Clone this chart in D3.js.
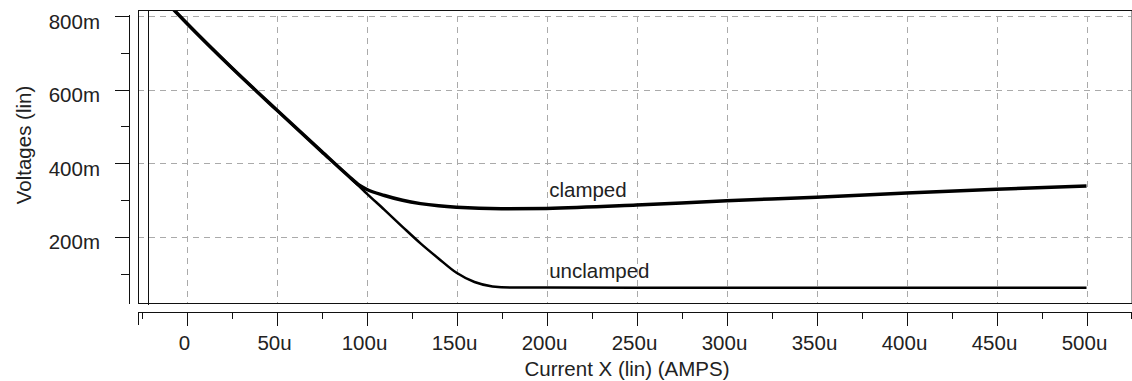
<!DOCTYPE html>
<html>
<head>
<meta charset="utf-8">
<script src="https://cdn.jsdelivr.net/npm/d3@7"></script>
<style>
body { margin:0; background:#fff; }
text { font-family: "Liberation Sans", Arial, sans-serif; font-size: 20.5px; fill:#222; }
</style>
</head>
<body>
<svg class="chart" width="1132" height="381"></svg>
<script>
// data
var xTicks = [0, 50, 100, 150, 200, 250, 300, 350, 400, 450, 500];
var xLabels = ["0", "50u", "100u", "150u", "200u", "250u", "300u", "350u", "400u", "450u", "500u"];
var xMinor = [-25, 25, 75, 125, 175, 225, 275, 325, 375, 425, 475, 525];
var yTicks = [200, 400, 600, 800];
var yLabels = ["200m", "400m", "600m", "800m"];
var yMinor = [100, 300, 500, 700];

var clampedI = [-7.3, 0, 25, 50, 75, 90, 96, 100, 110, 120, 130, 140, 150, 175, 200, 250, 300, 350, 400, 450, 500];
var clampedV = [818, 781, 660, 545, 432, 365, 340, 329, 312, 299, 290, 284, 280, 276, 277, 286, 298, 307, 319, 329, 338];
var unclampedI = [-7.3, 0, 25, 50, 75, 90, 100, 110, 120, 130, 140, 150, 160, 170, 180, 200, 300, 400, 500];
var unclampedV = [818, 781, 660, 545, 432, 365, 318, 273, 227, 182, 141, 102, 77, 65, 62, 62, 61, 61, 61];

var svg = d3.select('.chart');

// scales (u / m)
var x = d3.scaleLinear().domain([0, 500]).range([186.5, 1086.5]);
var y = d3.scaleLinear().domain([0, 800]).range([310.3, 16]);

var pLeft = x(-27), pRight = x(524.7), pTop = 10, pBottom = 303;

// grid
var grid = svg.append("g").attr("shape-rendering", "crispEdges")
    .style("stroke", "#aaa").style("stroke-dasharray", "6,5");
grid.selectAll(".vg").data(xTicks).enter().append("line")
    .attr("x1", function(d){ return Math.round(x(d)) + 0.5; })
    .attr("x2", function(d){ return Math.round(x(d)) + 0.5; })
    .attr("y1", y(800)).attr("y2", pBottom);
grid.selectAll(".hg").data(yTicks).enter().append("line")
    .attr("y1", function(d){ return Math.round(y(d)) + 0.5; })
    .attr("y2", function(d){ return Math.round(y(d)) + 0.5; })
    .attr("x1", pLeft).attr("x2", pRight);

// frame
var frame = svg.append("g").attr("shape-rendering", "crispEdges").style("stroke-width", 1);
frame.append("line").attr("x1", pRight + 0.5).attr("x2", pRight + 0.5).attr("y1", pTop).attr("y2", pBottom)
    .style("stroke", "#999");
frame.append("line").attr("x1", pLeft).attr("x2", pRight + 1).attr("y1", pTop + 0.5).attr("y2", pTop + 0.5)
    .style("stroke", "#111");
frame.append("line").attr("x1", pLeft).attr("x2", pRight + 1).attr("y1", pBottom + 0.5).attr("y2", pBottom + 0.5)
    .style("stroke", "#111");
frame.append("line").attr("x1", pLeft + 0.5).attr("x2", pLeft + 0.5).attr("y1", pTop).attr("y2", pBottom + 1)
    .style("stroke", "#111");
frame.append("line").attr("x1", Math.round(x(-21.4)) + 0.5).attr("x2", Math.round(x(-21.4)) + 0.5)
    .attr("y1", pTop).attr("y2", pBottom + 2)
    .style("stroke", "#111");

// curves
svg.append("clipPath").attr("id", "clip").append("rect")
    .attr("x", pLeft).attr("y", pTop + 1).attr("width", pRight - pLeft).attr("height", pBottom - pTop - 1);

var line = d3.line()
    .x(function(d){ return x(d[0]); })
    .y(function(d){ return y(d[1]); })
    .curve(d3.curveMonotoneX);

var curves = svg.append("g").attr("clip-path", "url(#clip)");
curves.append("path")
    .datum(unclampedI.map(function(d, i){ return [d, unclampedV[i]]; }))
    .attr("d", line)
    .style("fill", "none").style("stroke", "#000").style("stroke-width", 2.5);
curves.append("path")
    .datum(clampedI.map(function(d, i){ return [d, clampedV[i]]; }))
    .attr("d", line)
    .style("fill", "none").style("stroke", "#000").style("stroke-width", 3.5);

svg.append("text").attr("x", x(201.5)).attr("y", 197).text("clamped");
svg.append("text").attr("x", x(201.5)).attr("y", 278).text("unclamped");

// y axis
var ya = svg.append("g").attr("shape-rendering", "crispEdges").style("stroke", "#111");
ya.append("line").attr("x1", 129.5).attr("x2", 129.5).attr("y1", y(800) - 1).attr("y2", pBottom + 1);
ya.selectAll(".ymaj").data(yTicks).enter().append("line")
    .attr("x1", 115).attr("x2", 130)
    .attr("y1", function(d){ return Math.round(y(d)) + 0.5; })
    .attr("y2", function(d){ return Math.round(y(d)) + 0.5; });
ya.selectAll(".ymin").data(yMinor).enter().append("line")
    .attr("x1", 121).attr("x2", 130)
    .attr("y1", function(d){ return Math.round(y(d)) + 0.5; })
    .attr("y2", function(d){ return Math.round(y(d)) + 0.5; });
svg.selectAll(".ylab").data(yTicks).enter().append("text")
    .attr("x", 100).attr("y", function(d){ return y(d) + 12.7; })
    .style("text-anchor", "end")
    .text(function(d, i){ return yLabels[i]; });

// x axis
var xa = svg.append("g").attr("shape-rendering", "crispEdges").style("stroke", "#111");
xa.append("line").attr("x1", 138).attr("x2", 1132).attr("y1", 312.5).attr("y2", 312.5);
xa.append("line").attr("x1", 138.5).attr("x2", 138.5).attr("y1", 312).attr("y2", 325);
xa.selectAll(".xmaj").data(xTicks).enter().append("line")
    .attr("x1", function(d){ return Math.round(x(d)) + 0.5; })
    .attr("x2", function(d){ return Math.round(x(d)) + 0.5; })
    .attr("y1", 312).attr("y2", 326);
xa.selectAll(".xmin").data(xMinor).enter().append("line")
    .attr("x1", function(d){ return Math.min(Math.round(x(d)), 1131) + 0.5; })
    .attr("x2", function(d){ return Math.min(Math.round(x(d)), 1131) + 0.5; })
    .attr("y1", 312).attr("y2", 319);
svg.selectAll(".xlab").data(xTicks).enter().append("text")
    .attr("x", function(d){ return x(d) - 2; }).attr("y", 350)
    .style("text-anchor", "middle")
    .text(function(d, i){ return xLabels[i]; });

// axis titles
svg.append("text").attr("x", 627).attr("y", 376).style("text-anchor", "middle")
    .text("Current X (lin) (AMPS)");
svg.append("text").attr("transform", "translate(31,145) rotate(-90)").style("text-anchor", "middle")
    .text("Voltages (lin)");
</script>
</body>
</html>
